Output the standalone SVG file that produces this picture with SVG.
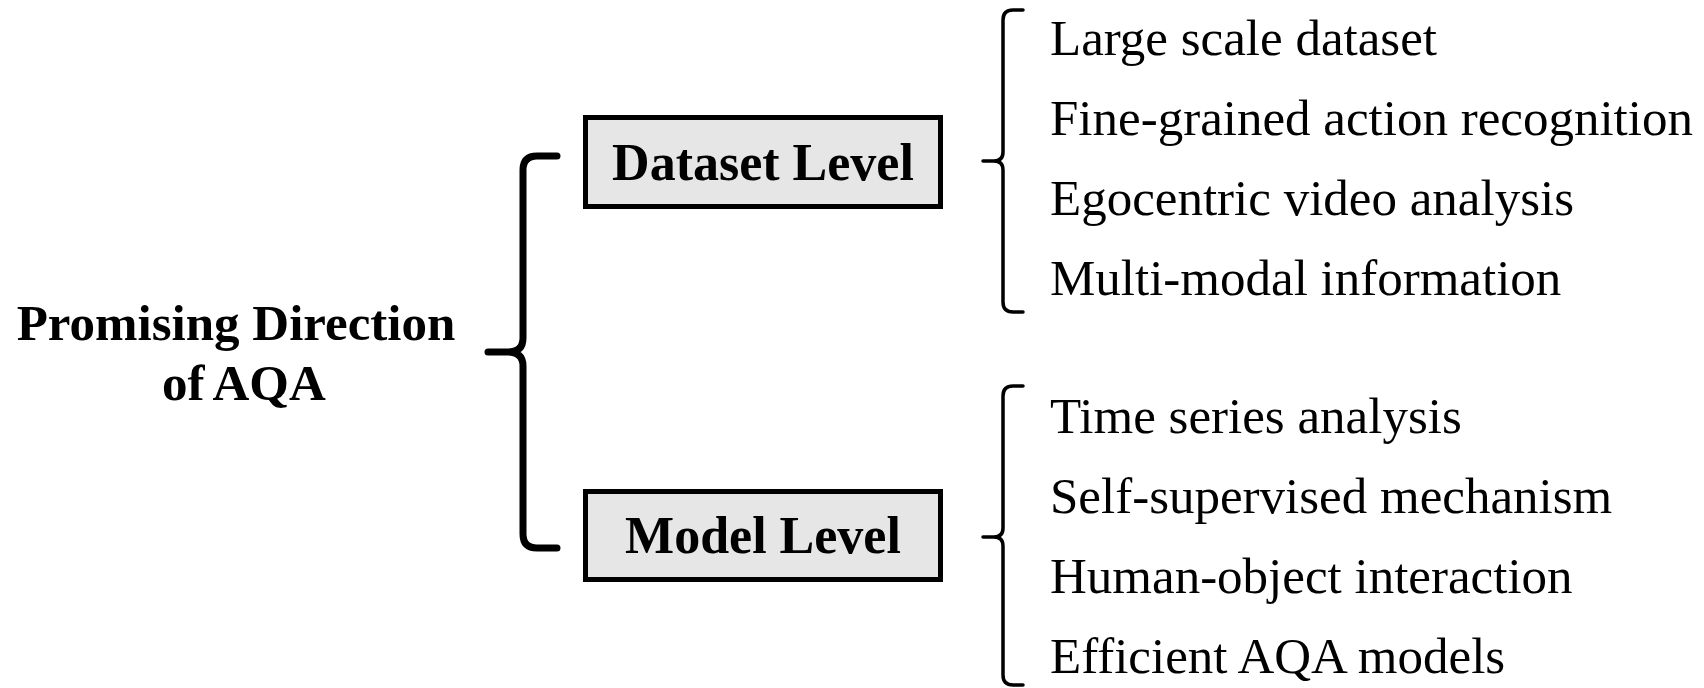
<svg xmlns="http://www.w3.org/2000/svg" width="1704" height="688" viewBox="0 0 1704 688">
<style>
.title{font-family:"Liberation Serif","Times New Roman",serif;font-weight:bold;font-size:51px;fill:#000}
.label{font-family:"Liberation Serif","Times New Roman",serif;font-weight:bold;font-size:52px;fill:#000}
.box{fill:#e6e6e6;stroke:#000;stroke-width:5}
.item{font-family:"Liberation Serif","Times New Roman",serif;font-size:51px;fill:#000}
.brace{fill:none;stroke:#000;stroke-linecap:round;stroke-linejoin:round}
</style>
<rect width="1704" height="688" fill="#fff"/>
<g id="root">
<text class="title" x="236" y="340" text-anchor="middle">Promising Direction</text>
<text class="title" x="162" y="400" word-spacing="-2">of AQA</text>
</g>
<g id="connectors">
<path class="brace" stroke-width="7" d="M557,156 H537 Q523,156 523,170 V338 Q523,352 508,352 H488 M508,352 Q523,352 523,366 V534 Q523,548 537,548 H557"/>
<path class="brace" stroke-width="3.5" d="M1023,10 H1013 Q1003,10 1003,20 V152 Q1003,161 994,161 H983 M994,161 Q1003,161 1003,170 V302 Q1003,312 1013,312 H1023"/>
<path class="brace" stroke-width="3.5" d="M1023,386 H1013 Q1003,386 1003,396 V528 Q1003,537 994,537 H983 M994,537 Q1003,537 1003,546 V675 Q1003,685 1013,685 H1023"/>
</g>
<g id="dataset">
<rect class="box" x="585.5" y="117.5" width="355" height="89"/>
<text class="label" x="763" y="180" text-anchor="middle">Dataset Level</text>
</g>
<g id="model">
<rect class="box" x="585.5" y="491.5" width="355" height="88"/>
<text class="label" x="763" y="553" text-anchor="middle">Model Level</text>
</g>
<g id="dataset-items">
<text class="item" x="1050" y="55">Large scale dataset</text>
<text class="item" x="1050" y="135">Fine-grained action recognition</text>
<text class="item" x="1050" y="215">Egocentric video analysis</text>
<text class="item" x="1050" y="295">Multi-modal information</text>
</g>
<g id="model-items">
<text class="item" x="1050" y="433">Time series analysis</text>
<text class="item" x="1050" y="513">Self-supervised mechanism</text>
<text class="item" x="1050" y="593">Human-object interaction</text>
<text class="item" x="1050" y="673">Efficient AQA models</text>
</g>
</svg>
